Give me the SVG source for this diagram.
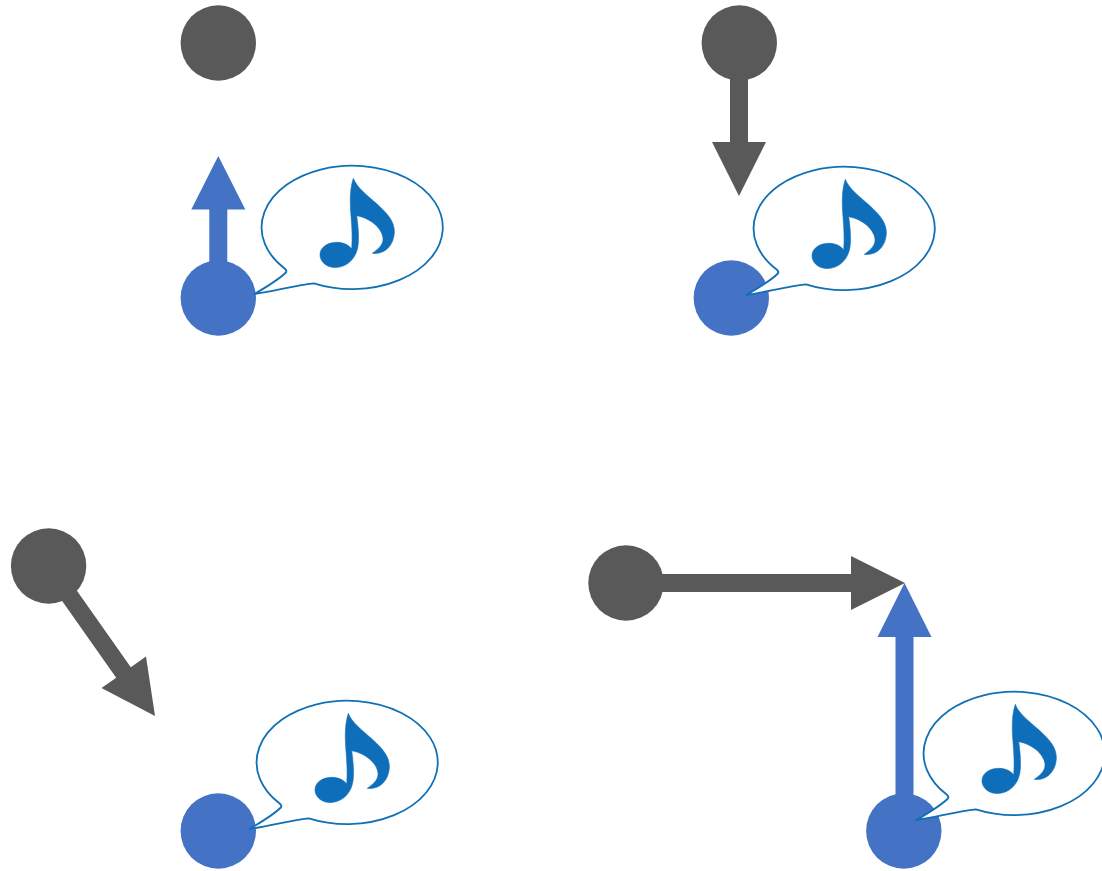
<svg xmlns="http://www.w3.org/2000/svg" xmlns:xlink="http://www.w3.org/1999/xlink" width="1102" height="871" viewBox="0 0 1102 871">
<style>
.gray{fill:#595959}
.blue{fill:#4472C4}
.bubble{fill:#fff;stroke:#1070B5;stroke-width:1.8;stroke-linejoin:round}
.note{fill:#0F6EB9;stroke:#0F6EB9;stroke-width:0.6}
</style>
<defs>
<g id="speech">
<path class="bubble" d="M254,294 C266,287 279,279 285.500,272.500 C286.500,271 286,270 284.500,268.700 A90.600,61.700 0 1 1 313.500,283.300 C294,285.500 274,291 254,294 Z" transform="translate(0.400,0)"/>
<path class="note" d="M353.300,178.300 C357,188 367,195 377,204 C388,214 395,222 394.300,233 C393.500,246 384,255 372.300,253.300 C380,248 383.500,243.500 383,238 C382,228 370,218 356.700,215.700 C358,225 359,235 358.300,243 C357.500,258 347,267.500 335,267.500 C326,267.500 319.500,261 320,254 C320.500,247 328,242.300 337,242.300 C343,242.300 349,245 351.700,249 C352.500,238 352,228 351,216 C350,204 349.500,190 353.300,178.300 Z"/>
</g>
</defs>
<g id="connectors">
<path class="blue" d="M209.300,270 V209.500 H191.300 L218.300,156 L245.300,209.500 H227.300 V270 Z"/>
<path class="gray" d="M730,70 V142 H712 L739,196 L766,142 H748 V70 Z"/>
<path class="gray" d="M41.200,571.200 L116.200,677.700 L101.500,688 L155,716 L146,656.500 L130.800,667.300 L55.800,560.800 Z"/>
<path class="gray" d="M655,574 H851 V556 L905,583 L851,610 V592 H655 Z"/>
<path class="blue" d="M895.500,810 V637 H877.500 L904.500,583 L931.500,637 H913.500 V810 Z"/>
</g>
<g id="node-a-gray"><circle class="gray" cx="218.300" cy="43" r="37.700"/></g>
<g id="node-a-blue"><circle class="blue" cx="218.300" cy="298" r="37.700"/></g>
<g id="node-a-bubble"><use href="#speech"/></g>
<g id="node-b-gray"><circle class="gray" cx="739.300" cy="43" r="37.700"/></g>
<g id="node-b-blue"><circle class="blue" cx="731.300" cy="298" r="37.700"/></g>
<g id="node-b-bubble"><use href="#speech" transform="translate(492,1)"/></g>
<g id="node-c-gray"><circle class="gray" cx="48.600" cy="566" r="37.700"/></g>
<g id="node-c-blue"><circle class="blue" cx="218.300" cy="831" r="37.700"/></g>
<g id="node-c-bubble"><use href="#speech" transform="translate(-5,535)"/></g>
<g id="node-d-gray"><circle class="gray" cx="626" cy="583" r="37.700"/></g>
<g id="node-d-blue"><circle class="blue" cx="903.800" cy="831" r="37.700"/></g>
<g id="node-d-bubble"><use href="#speech" transform="translate(662,526)"/></g>
</svg>
